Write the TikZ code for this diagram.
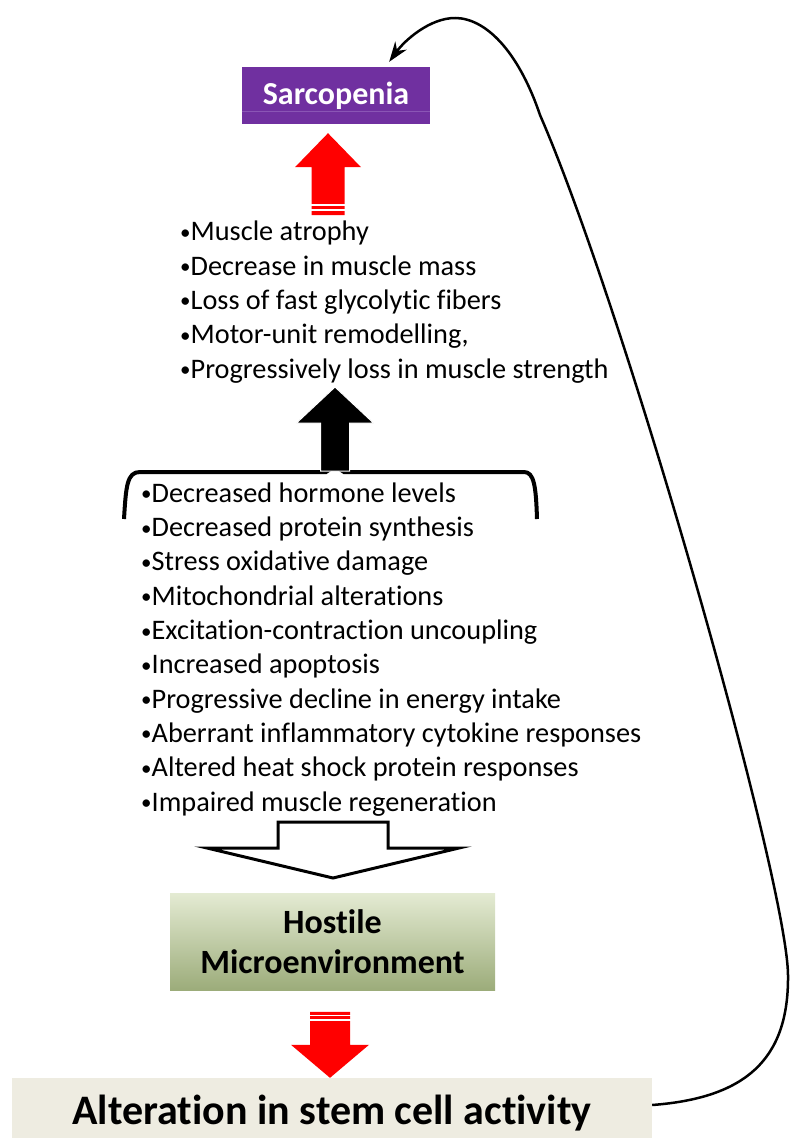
\documentclass[tikz,border=0pt]{standalone}
\usepackage{fontspec}
\setmainfont{Carlito}[Ligatures=CommonOff]
\usepackage{tikz}
\usetikzlibrary{arrows.meta, positioning, calc}
\definecolor{sarcviolet}{HTML}{7030A0}
\definecolor{sarcgloss}{HTML}{8A55B5}
\definecolor{hostlight}{HTML}{E4EBD3}
\definecolor{hostdark}{HTML}{9CAC7A}
\definecolor{alterbeige}{HTML}{EEECE1}
\newcommand{\bul}{{\fontsize{21}{21}\selectfont\raisebox{1.5pt}{•}}}
\tikzstyle{titlebox} = [rectangle, fill=sarcviolet, text=white, font=\fontsize{32}{38}\selectfont\bfseries, minimum width=188pt, minimum height=57pt, inner sep=0pt]
\tikzstyle{envbox} = [rectangle, top color=hostlight, bottom color=hostdark, font=\fontsize{34}{40}\selectfont\bfseries, align=center, minimum width=325pt, minimum height=97pt, inner sep=0pt]
\tikzstyle{stembox} = [rectangle, fill=alterbeige, font=\fontsize{42}{50}\selectfont\bfseries, minimum width=640pt, minimum height=70pt, inner sep=0pt]
\tikzstyle{items} = [align=left, anchor=base west, inner sep=0pt, font=\fontsize{28.3}{34.3}\selectfont]
\tikzstyle{feedback} = [-{Stealth[length=20pt, width=14pt]}, line width=2.5pt]
\tikzstyle{stripe} = [white, line width=1.6pt]

\begin{document}
\begin{tikzpicture}[x=1pt, y=-1pt]
        \useasboundingbox (0,0) rectangle (790,1138);

        % Sarcopenia box
        \node[titlebox] (sarc) at (336,95.5) {Sarcopenia};
        \draw[sarcgloss, line width=1pt] ($(sarc.south west)+(0,-13)$) -- ($(sarc.south east)+(0,-13)$);

        % Red arrow up
        \coordinate (up1) at ($(sarc.south)+(-8,91)$);
        \fill[red] (up1) ++(-16.5,0) -- ++(0,-48) -- ++(-16.5,0) -- ++(33,-34) -- ++(33,34) -- ++(-16.5,0) -- ++(0,48) -- cycle;
        \draw[stripe] ($(up1)+(-18,-10.5)$) -- ++(36,0);
        \draw[stripe] ($(up1)+(-18,-5.5)$) -- ++(36,0);

        % Effects list (anchored on its last baseline)
        \node[items] (effects) at (180,378) {\bul Muscle atrophy\\\bul Decrease in muscle mass\\\bul Loss of fast glycolytic fibers\\\bul Motor-unit remodelling,\\\bul Progressively loss in muscle strength};

        % Brace
        \draw[line width=4pt] (124,519) .. controls (126,486) and (127,472) .. (140,472) -- (326,472) -- (335,466) -- (344,472) -- (524,472) .. controls (534,472) and (536,486) .. (537,519);

        % Black arrow up
        \coordinate (up2) at (335,471);
        \filldraw[draw=white, line width=1pt] (up2) ++(-14.5,0) -- ++(0,-48) -- ++(-24,0) -- ++(38.5,-36) -- ++(38.5,36) -- ++(-24,0) -- ++(0,48) -- cycle;

        % Causes list (anchored on its last baseline)
        \node[items] (causes) at (141,811) {\bul Decreased hormone levels\\\bul Decreased protein synthesis\\\bul Stress oxidative damage\\\bul Mitochondrial alterations\\\bul Excitation-contraction uncoupling\\\bul Increased apoptosis\\\bul Progressive decline in energy intake\\\bul Aberrant inflammatory cytokine responses\\\bul Altered heat shock protein responses\\\bul Impaired muscle regeneration};

        % Hollow arrow down
        \coordinate (down1) at (333,822);
        \draw[line width=3pt, fill=white, line join=miter] (down1) ++(-55,0) -- ++(0,26) -- ++(-71,0) -- ++(126,30) -- ++(126,-30) -- ++(-71,0) -- ++(0,-26) -- cycle;

        % Hostile microenvironment
        \node[envbox] (hostile) at (332.5,941.5) {Hostile\\Microenvironment};

        % Stem cell box
        \node[stembox] (stem) at (332,1113) {Alteration in stem cell activity};

        % Red arrow down
        \coordinate (down2) at ($(stem.north)+(-2,-66)$);
        \fill[red] (down2) ++(-20,0) -- ++(0,33) -- ++(-19,0) -- ++(39,33) -- ++(39,-33) -- ++(-19,0) -- ++(0,-33) -- cycle;
        \draw[stripe] ($(down2)+(-21,3.5)$) -- ++(42,0);
        \draw[stripe] ($(down2)+(-21,8)$) -- ++(42,0);

        % Feedback curve
        \coordinate (tip) at ($(sarc.north east)+(-41,-5)$);
        \draw[feedback] ($(stem.east)+(0,-8)$) .. controls (745,1098) and (789,1060) .. (788,975) .. controls (787,880) and (625,310) .. (540,115) .. controls (518,50) and (485,18) .. (455,18) .. controls (430,18) and (405,40) .. (tip);
    \end{tikzpicture}
\end{document}
